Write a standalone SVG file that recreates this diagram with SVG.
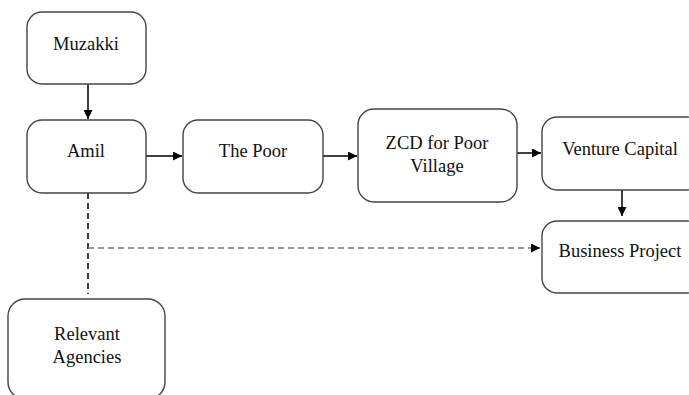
<svg xmlns="http://www.w3.org/2000/svg" width="689" height="395" viewBox="0 0 689 395">
<style>
.box{fill:#fff;stroke:#444;stroke-width:1.4}
.t{font-family:'Liberation Serif','DejaVu Serif',serif;font-size:18.5px;fill:#111;text-anchor:middle}
.c{stroke:#000;stroke-width:1.5;fill:none}
.d{stroke:#000;stroke-width:1.5;fill:none;stroke-dasharray:6 4}
.g{stroke:#777;stroke-width:1.5;fill:none;stroke-dasharray:6 4}
</style>
<defs>
<marker id="ah" viewBox="0 0 10 10" refX="10" refY="5" markerWidth="6" markerHeight="6" markerUnits="strokeWidth" orient="auto">
<path d="M0,0 L10,5 L0,10 z" fill="#000"/>
</marker>
</defs>
<rect width="689" height="395" fill="#fff"/>
<g id="connectors">
<line class="c" x1="88" y1="84" x2="88" y2="119" marker-end="url(#ah)"/>
<line class="c" x1="146" y1="156" x2="182" y2="156" marker-end="url(#ah)"/>
<line class="c" x1="323" y1="156" x2="357" y2="156" marker-end="url(#ah)"/>
<line class="c" x1="517" y1="153" x2="541" y2="153" marker-end="url(#ah)"/>
<line class="c" x1="622" y1="190" x2="622" y2="216" marker-end="url(#ah)"/>
<line class="d" x1="88" y1="193" x2="88" y2="294"/>
<line class="g" x1="88" y1="248" x2="540" y2="248" marker-end="url(#ah)"/>
</g>
<g id="muzakki">
<rect class="box" x="27" y="12" width="119" height="72" rx="15"/>
<text class="t" x="86" y="50" font-family="Liberation Serif">Muzakki</text>
</g>
<g id="amil">
<rect class="box" x="27" y="120" width="119" height="73" rx="15"/>
<text class="t" x="86" y="157">Amil</text>
</g>
<g id="the-poor">
<rect class="box" x="183" y="120" width="140" height="73" rx="15"/>
<text class="t" x="253" y="157">The Poor</text>
</g>
<g id="zcd">
<rect class="box" x="358" y="109" width="159" height="93" rx="16"/>
<text class="t" x="437" y="149">ZCD for Poor</text>
<text class="t" x="437" y="172">Village</text>
</g>
<g id="venture-capital">
<rect class="box" x="542" y="117" width="160" height="73" rx="15"/>
<text class="t" x="620" y="155">Venture Capital</text>
</g>
<g id="business-project">
<rect class="box" x="542" y="221" width="160" height="72" rx="15"/>
<text class="t" x="620" y="257">Business Project</text>
</g>
<g id="relevant-agencies">
<rect class="box" x="8" y="299" width="157" height="100" rx="17"/>
<text class="t" x="87" y="340">Relevant</text>
<text class="t" x="87" y="363">Agencies</text>
</g>
</svg>
